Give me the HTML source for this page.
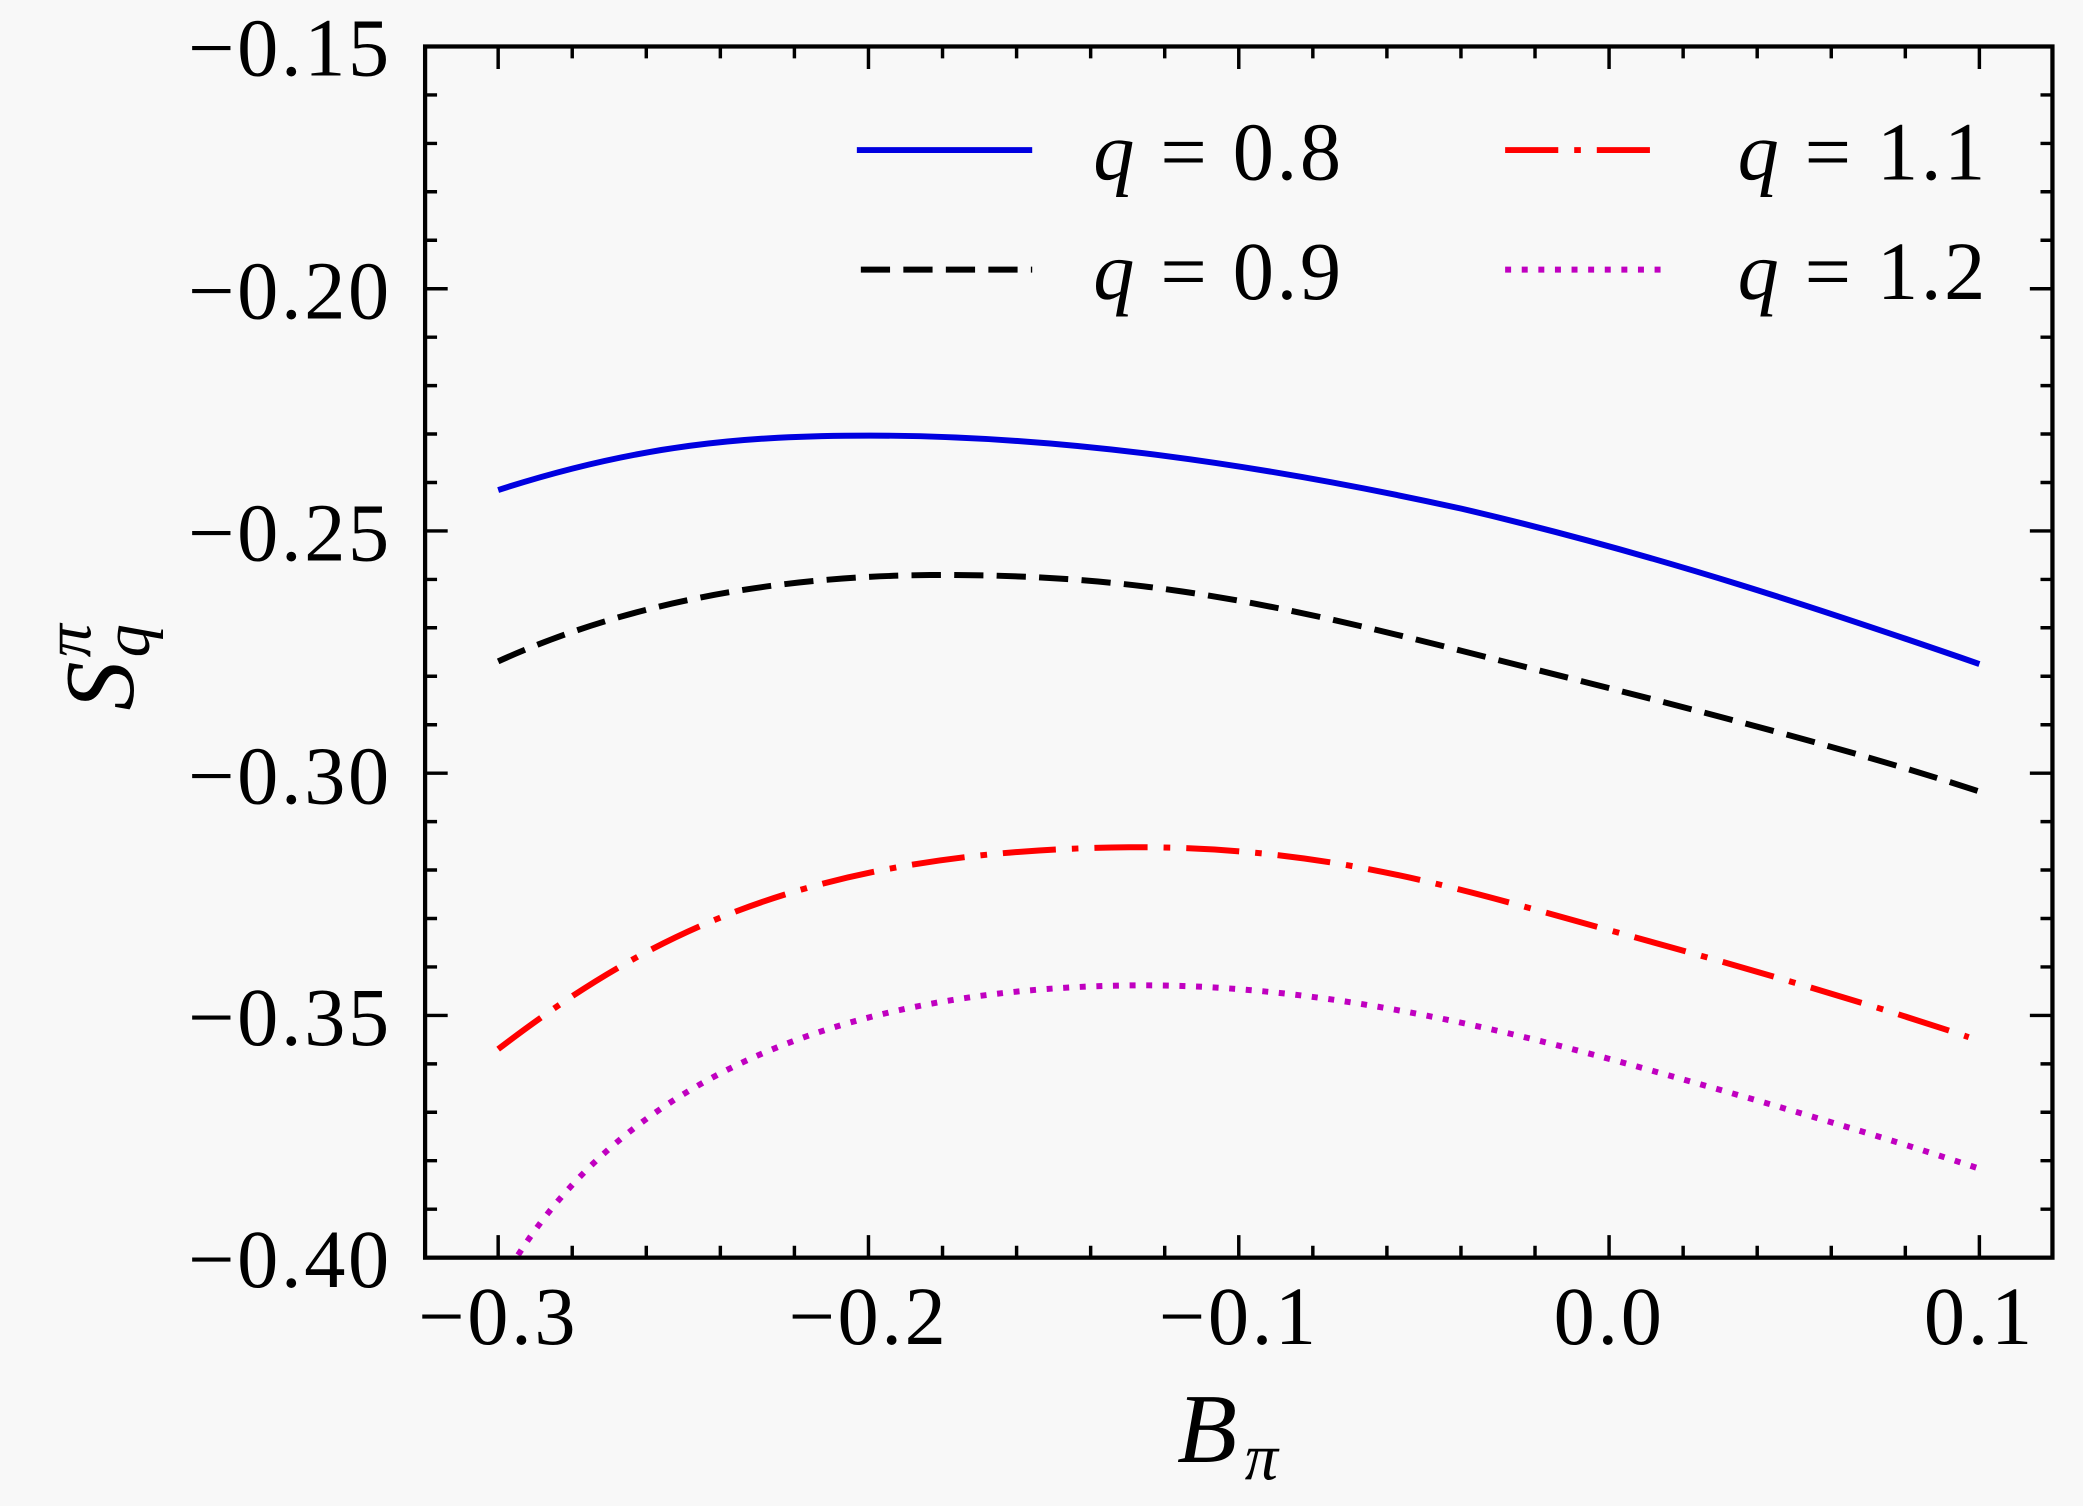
<!DOCTYPE html>
<html><head><style>
html,body{margin:0;padding:0;background:#f8f8f8;}
svg{display:block;}
text{font-family:"Liberation Serif",serif;fill:#000;}
</style></head><body>
<svg width="2083" height="1506" viewBox="0 0 1568 1134" preserveAspectRatio="none" xmlns="http://www.w3.org/2000/svg">
<rect x="0" y="0" width="1568" height="1134" fill="#f8f8f8"/>
<g fill="none" stroke-linecap="butt" stroke-linejoin="round" stroke-width="4.5">
<path stroke="#0000e0" d="M375,369 C480,335 560,328 655,328 C800,328 950,350 1100,383 C1250,418 1380,462 1490,500"/>
<path stroke="#000" stroke-dasharray="22 10" d="M375,498 C470,455 580,434 700,433 C850,432 950,452 1100,490 C1250,528 1380,560 1490,596"/>
<path stroke="#f00" stroke-dasharray="40 12 5 12" d="M375,790 C480,710 600,640 850,638 C1000,637 1100,670 1210,700 C1330,733 1420,760 1482,781"/>
<path stroke="#c000c0" stroke-dasharray="4.5 8" d="M390,945 C470,820 620,745 850,742 C1000,740 1150,780 1250,808 C1350,836 1430,860 1490,880"/>
</g>
<g stroke="#000" fill="none">
<rect x="320" y="35" width="1225" height="912" stroke-width="3.2"/>
<g stroke-width="2.6">
<path d="M375,947v-17M375,35v17M653.75,947v-17M653.75,35v17M932.5,947v-17M932.5,35v17M1211.25,947v-17M1211.25,35v17M1490,947v-17M1490,35v17"/>
<path d="M430.75,947v-9M430.75,35v9M486.5,947v-9M486.5,35v9M542.25,947v-9M542.25,35v9M598,947v-9M598,35v9M709.5,947v-9M709.5,35v9M765.25,947v-9M765.25,35v9M821,947v-9M821,35v9M876.75,947v-9M876.75,35v9M988.25,947v-9M988.25,35v9M1044,947v-9M1044,35v9M1099.75,947v-9M1099.75,35v9M1155.5,947v-9M1155.5,35v9M1267,947v-9M1267,35v9M1322.75,947v-9M1322.75,35v9M1378.5,947v-9M1378.5,35v9M1434.25,947v-9M1434.25,35v9"/>
<path d="M320,217.4h17M1545,217.4h-17M320,399.8h17M1545,399.8h-17M320,582.2h17M1545,582.2h-17M320,764.6h17M1545,764.6h-17"/>
<path d="M320,71.5h9M1545,71.5h-9M320,108h9M1545,108h-9M320,144.4h9M1545,144.4h-9M320,180.9h9M1545,180.9h-9M320,253.9h9M1545,253.9h-9M320,290.4h9M1545,290.4h-9M320,326.8h9M1545,326.8h-9M320,363.3h9M1545,363.3h-9M320,436.3h9M1545,436.3h-9M320,472.7h9M1545,472.7h-9M320,509.2h9M1545,509.2h-9M320,545.7h9M1545,545.7h-9M320,618.7h9M1545,618.7h-9M320,655.1h9M1545,655.1h-9M320,691.6h9M1545,691.6h-9M320,728.1h9M1545,728.1h-9M320,801.1h9M1545,801.1h-9M320,837.5h9M1545,837.5h-9M320,874h9M1545,874h-9M320,910.5h9M1545,910.5h-9"/>
</g>
</g>
<g font-size="62" text-anchor="end" letter-spacing="2">
<text x="295" y="57">−0.15</text>
<text x="295" y="240">−0.20</text>
<text x="295" y="422">−0.25</text>
<text x="295" y="605">−0.30</text>
<text x="295" y="787">−0.35</text>
<text x="295" y="969">−0.40</text>
</g>
<g font-size="62" text-anchor="middle" letter-spacing="2">
<text x="375" y="1012">−0.3</text>
<text x="653.75" y="1012">−0.2</text>
<text x="932.5" y="1012">−0.1</text>
<text x="1211.25" y="1012">0.0</text>
<text x="1490" y="1012">0.1</text>
</g>
<text x="886" y="1101" font-size="74" font-style="italic">B</text>
<text x="937" y="1114" font-size="50" font-style="italic">π</text>
<g transform="translate(100,535) rotate(-90)">
<text x="0" y="0" font-size="74" font-style="italic">S</text>
<text x="40" y="12" font-size="50" font-style="italic">q</text>
<text x="40" y="-32" font-size="50" font-style="italic">π</text>
</g>
<g stroke-width="4.5" fill="none">
<line x1="645" y1="113" x2="777" y2="113" stroke="#0000e0"/>
<line x1="648" y1="203" x2="777" y2="203" stroke="#000" stroke-dasharray="22 10"/>
<line x1="1133" y1="113" x2="1250" y2="113" stroke="#f00" stroke-dasharray="40 12 5 12"/>
<line x1="1133" y1="203" x2="1250" y2="203" stroke="#c000c0" stroke-dasharray="4.5 8"/>
</g>
<g font-size="62" letter-spacing="2">
<text x="823" y="135"><tspan font-style="italic">q</tspan> = 0.8</text>
<text x="823" y="225"><tspan font-style="italic">q</tspan> = 0.9</text>
<text x="1308" y="135"><tspan font-style="italic">q</tspan> = 1.1</text>
<text x="1308" y="225"><tspan font-style="italic">q</tspan> = 1.2</text>
</g>
</svg>
</body></html>
